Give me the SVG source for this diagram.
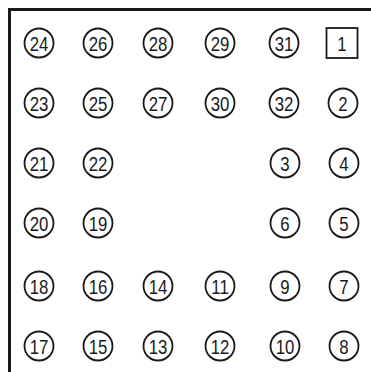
<svg xmlns="http://www.w3.org/2000/svg" width="371" height="372" viewBox="0 0 371 372">
<style>
.n circle,.n rect{fill:#fff;stroke:#1a1a1a;stroke-width:1.8}
.n text{font-family:"Liberation Sans",Arial,sans-serif;font-size:21px;fill:#1a1a1a;text-anchor:middle}
.frame{fill:none;stroke:#1a1a1a;stroke-width:3}
</style>
<defs>
<circle id="c" r="14.5"/>
</defs>
<rect width="371" height="372" fill="#fff"/>
<g id="connectors"><path class="frame" d="M9.5,372 V9.5 H371"/></g>
<g class="n">
<g id="n24" transform="translate(39,43)"><circle r="14.5"/><text transform="scale(0.8,1)" y="7.5">24</text></g>
<g id="n26" transform="translate(98,43)"><circle r="14.5"/><text transform="scale(0.8,1)" y="7.5">26</text></g>
<g id="n28" transform="translate(158,43)"><circle r="14.5"/><text transform="scale(0.8,1)" y="7.5">28</text></g>
<g id="n29" transform="translate(220,43)"><circle r="14.5"/><text transform="scale(0.8,1)" y="7.5">29</text></g>
<g id="n31" transform="translate(284,43)"><circle r="14.5"/><text transform="scale(0.8,1)" y="7.5">31</text></g>
<g id="n1" transform="translate(342,43)"><rect x="-15.5" y="-15" width="31" height="30"/><text transform="scale(0.8,1)" y="7.5">1</text></g>
<g id="n23" transform="translate(39,103)"><circle r="14.5"/><text transform="scale(0.8,1)" y="7.5">23</text></g>
<g id="n25" transform="translate(98,103)"><circle r="14.5"/><text transform="scale(0.8,1)" y="7.5">25</text></g>
<g id="n27" transform="translate(158,103)"><circle r="14.5"/><text transform="scale(0.8,1)" y="7.5">27</text></g>
<g id="n30" transform="translate(220,103)"><circle r="14.5"/><text transform="scale(0.8,1)" y="7.5">30</text></g>
<g id="n32" transform="translate(284,103)"><circle r="14.5"/><text transform="scale(0.8,1)" y="7.5">32</text></g>
<g id="n2" transform="translate(343,103)"><circle r="14.5"/><text transform="scale(0.8,1)" y="7.5">2</text></g>
<g id="n21" transform="translate(39,163)"><circle r="14.5"/><text transform="scale(0.8,1)" y="7.5">21</text></g>
<g id="n22" transform="translate(98,163)"><circle r="14.5"/><text transform="scale(0.8,1)" y="7.5">22</text></g>
<g id="n3" transform="translate(285,163)"><circle r="14.5"/><text transform="scale(0.8,1)" y="7.5">3</text></g>
<g id="n4" transform="translate(344,163)"><circle r="14.5"/><text transform="scale(0.8,1)" y="7.5">4</text></g>
<g id="n20" transform="translate(39,223)"><circle r="14.5"/><text transform="scale(0.8,1)" y="7.5">20</text></g>
<g id="n19" transform="translate(98,223)"><circle r="14.5"/><text transform="scale(0.8,1)" y="7.5">19</text></g>
<g id="n6" transform="translate(285,223)"><circle r="14.5"/><text transform="scale(0.8,1)" y="7.5">6</text></g>
<g id="n5" transform="translate(344,223)"><circle r="14.5"/><text transform="scale(0.8,1)" y="7.5">5</text></g>
<g id="n18" transform="translate(39,286)"><circle r="14.5"/><text transform="scale(0.8,1)" y="7.5">18</text></g>
<g id="n16" transform="translate(98,286)"><circle r="14.5"/><text transform="scale(0.8,1)" y="7.5">16</text></g>
<g id="n14" transform="translate(158,286)"><circle r="14.5"/><text transform="scale(0.8,1)" y="7.5">14</text></g>
<g id="n11" transform="translate(220,286)"><circle r="14.5"/><text transform="scale(0.8,1)" y="7.5">11</text></g>
<g id="n9" transform="translate(285,286)"><circle r="14.5"/><text transform="scale(0.8,1)" y="7.5">9</text></g>
<g id="n7" transform="translate(344,286)"><circle r="14.5"/><text transform="scale(0.8,1)" y="7.5">7</text></g>
<g id="n17" transform="translate(39,346)"><circle r="14.5"/><text transform="scale(0.8,1)" y="7.5">17</text></g>
<g id="n15" transform="translate(98,346)"><circle r="14.5"/><text transform="scale(0.8,1)" y="7.5">15</text></g>
<g id="n13" transform="translate(158,346)"><circle r="14.5"/><text transform="scale(0.8,1)" y="7.5">13</text></g>
<g id="n12" transform="translate(220,346)"><circle r="14.5"/><text transform="scale(0.8,1)" y="7.5">12</text></g>
<g id="n10" transform="translate(285,346)"><circle r="14.5"/><text transform="scale(0.8,1)" y="7.5">10</text></g>
<g id="n8" transform="translate(344,346)"><circle r="14.5"/><text transform="scale(0.8,1)" y="7.5">8</text></g>
</g>
</svg>
